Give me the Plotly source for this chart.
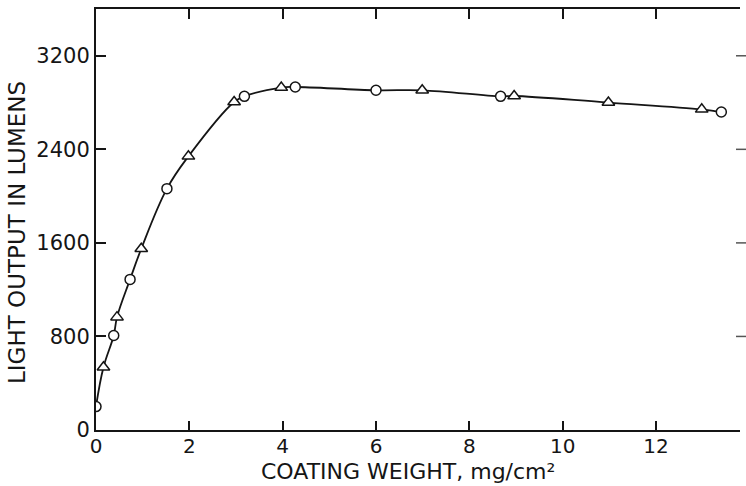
import plotly.graph_objects as go

# Coating weight (mg/cm^2) and light output (lumens)
circle_x = [0.0, 0.38, 0.73, 1.52, 3.18, 4.27, 6.0, 8.67, 13.4]
circle_y = [200, 808, 1288, 2064, 2853, 2933, 2905, 2853, 2719]
triangle_x = [0.16, 0.45, 0.97, 1.98, 2.96, 3.97, 6.99, 8.96, 10.98, 12.98]
triangle_y = [537, 965, 1550, 2340, 2805, 2928, 2905, 2856, 2800, 2742]

x_ticks = [0, 2, 4, 6, 8, 10, 12]
y_ticks = [0, 800, 1600, 2400, 3200]

x_title = "COATING WEIGHT, mg/cm²"
y_title = "LIGHT OUTPUT IN LUMENS"

# smooth curve through both sets of measurements
pairs = sorted(zip(circle_x + triangle_x, circle_y + triangle_y))
curve_x = [p[0] for p in pairs]
curve_y = [p[1] for p in pairs]

ink = "#151515"
font_family = "DejaVu Sans"
m_l, m_r, m_t, m_b = 96, 6, 9, 56
plot_w = 746 - m_l - m_r
plot_h = 486 - m_t - m_b

fig = go.Figure()
fig.add_trace(go.Scatter(
    x=curve_x, y=curve_y, mode="lines",
    line=dict(color=ink, width=1.8, shape="spline", smoothing=1.1),
    hoverinfo="skip"))
fig.add_trace(go.Scatter(
    x=circle_x, y=circle_y, mode="markers",
    marker=dict(symbol="circle", size=10, color="white",
                line=dict(color=ink, width=1.5))))
fig.add_trace(go.Scatter(
    x=triangle_x, y=triangle_y, mode="markers",
    marker=dict(symbol="triangle-up", size=11, color="white",
                line=dict(color=ink, width=1.5))))
# carrier for the top axis
fig.add_trace(go.Scatter(x=[0], y=[0], xaxis="x2", mode="markers",
                         marker=dict(opacity=0), hoverinfo="skip"))

# inward tick marks along the (cropped) right-hand edge
right_ticks = [
    dict(type="line", xref="paper", yref="y",
         x0=1 - 4 / plot_w, x1=1 + 6 / plot_w, y0=v, y1=v,
         line=dict(color="#555", width=1.5))
    for v in y_ticks[1:]
]

titles = [
    dict(text=x_title, xref="paper", yref="paper",
         x=(408 - m_l) / plot_w, y=-(472 - 430) / plot_h,
         xanchor="center", yanchor="middle", showarrow=False,
         font=dict(size=22)),
    dict(text=y_title, xref="paper", yref="paper",
         x=(17 - m_l) / plot_w, y=(430 - 233) / plot_h, textangle=-90,
         xanchor="center", yanchor="middle", showarrow=False,
         font=dict(size=23)),
]

fig.update_layout(
    width=746, height=486,
    margin=dict(l=m_l, r=m_r, t=m_t, b=m_b),
    paper_bgcolor="white", plot_bgcolor="white",
    showlegend=False,
    font=dict(family=font_family, color=ink),
    shapes=right_ticks,
    annotations=titles,
    xaxis=dict(
        range=[0, 13.8], tickvals=x_ticks, ticktext=[str(v) for v in x_ticks],
        ticks="inside", ticklen=9, tickwidth=1.5, tickcolor=ink,
        showline=True, linecolor=ink, linewidth=2, mirror=False,
        showgrid=False, zeroline=False,
        tickfont=dict(size=20), ticklabelstandoff=-3,
    ),
    xaxis2=dict(
        overlaying="x", side="top", anchor="y", range=[0, 13.8],
        tickvals=x_ticks[1:], showticklabels=False,
        ticks="inside", ticklen=10, tickwidth=1.5, tickcolor=ink,
        showline=True, linecolor=ink, linewidth=2,
        showgrid=False, zeroline=False,
    ),
    yaxis=dict(
        range=[0, 3600], tickvals=y_ticks, ticktext=[str(v) for v in y_ticks],
        ticks="inside", ticklen=10, tickwidth=1.5, tickcolor=ink,
        showline=True, linecolor=ink, linewidth=2, mirror=False,
        showgrid=False, zeroline=False,
        tickfont=dict(size=21),
    ),
)

fig.write_html("out.html")
